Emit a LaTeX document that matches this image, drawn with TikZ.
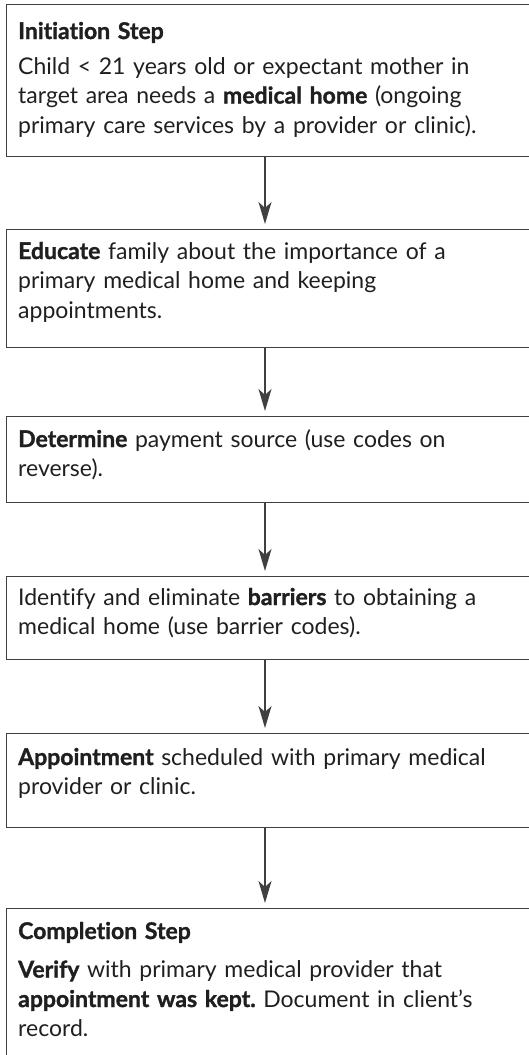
\documentclass[tikz,border=0pt]{standalone}
\usepackage{fontspec}
\setmainfont{Lato}[Ligatures={NoCommon}, BoldFeatures={FakeBold=1.3}]
\usetikzlibrary{arrows.meta}
\frenchspacing
\begin{document}
\begin{tikzpicture}[x=1pt,y=-1pt,
  box/.style={draw=black!75, line width=1.2pt, anchor=north west, minimum width=540pt, inner sep=0pt},
  txt/.style={anchor=base west, inner sep=0pt, text width=600pt, align=left, text=black!88, font=\fontsize{23}{29.5}\selectfont},
  arr/.style={draw=black!75, line width=1.2pt, -{Stealth[length=22pt,width=13pt,inset=6pt]}, shorten >=5pt}]
\useasboundingbox (0,0) rectangle (528,1055);
\coordinate (ax) at (265,0);
\node[box, minimum height=152pt] (b1) at (6,4) {};
\node[box, minimum height=118pt] (b2) at (6,229) {};
\node[box, minimum height=86pt] (b3) at (6,416) {};
\node[box, minimum height=83pt] (b4) at (6,576) {};
\node[box, minimum height=94pt] (b5) at (6,733) {};
\node[box, minimum height=160pt] (b6) at (6,908) {};
\node[txt] (t1) at (18,39) {\textbf{Initiation Step}\\[5.5pt]Child < 21 years old or expectant mother in\\target area needs a \textbf{medical home} (ongoing\\primary care services by a provider or clinic).};
\node[txt] (t2) at (18,259) {\textbf{Educate} family about the importance of a\\primary medical home and keeping\\appointments.};
\node[txt] (t3) at (18,447) {\textbf{Determine} payment source (use codes on\\reverse).};
\node[txt] (t4) at (18,605) {Identify and eliminate \textbf{barriers} to obtaining a\\medical home (use barrier codes).};
\node[txt] (t5) at (18,765) {\textbf{Appointment} scheduled with primary medical\\provider or clinic.};
\node[txt] (t6) at (18,939) {\textbf{Completion Step}\\[9pt]\textbf{Verify} with primary medical provider that\\\textbf{appointment was kept.} Document in client’s\\record.};
\draw[arr] (b1.south -| ax) -- (b2.north -| ax);
\draw[arr] (b2.south -| ax) -- (b3.north -| ax);
\draw[arr] (b3.south -| ax) -- (b4.north -| ax);
\draw[arr] (b4.south -| ax) -- (b5.north -| ax);
\draw[arr] (b5.south -| ax) -- (b6.north -| ax);
\end{tikzpicture}
\end{document}
